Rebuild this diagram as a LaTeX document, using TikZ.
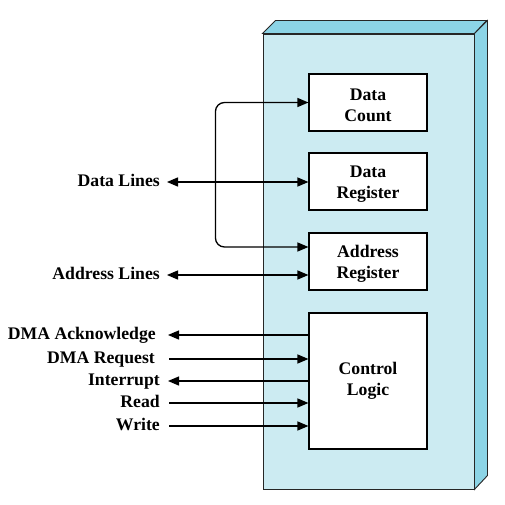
\documentclass[tikz,border=0pt]{standalone}
\usepackage{fontspec}
\setmainfont{Liberation Serif}
\usetikzlibrary{arrows.meta}
\definecolor{frontc}{RGB}{204,235,242}
\definecolor{sidec}{RGB}{140,212,230}
\newcommand{\topgap}{\rule{0pt}{17pt}}
\begin{document}
\begin{tikzpicture}[x=1pt,y=-1pt,
  font=\fontsize{17.7}{21}\selectfont\bfseries,
  >={Triangle[length=11pt,width=9pt]},
  reg/.style={draw, line width=1.1pt, fill=white, minimum width=118pt, minimum height=57pt, align=center, inner sep=0pt},
  lbl/.style={anchor=east, inner ysep=0pt, text height=12.5pt, text depth=4pt},
  sig/.style={line width=1.3pt},
  shell/.style={draw=black!85, line width=0.9pt}]
\useasboundingbox (0,0) rectangle (505,505);
% module body
\node[shell, fill=frontc, minimum width=211pt, minimum height=455pt, inner sep=0pt] (body) at (368.5,261.5) {};
\filldraw[shell, fill=sidec] (body.north west) -- ++(13,-13) -- ++(211,0) -- (body.north east) -- cycle;
\filldraw[shell, fill=sidec] (body.north east) -- ++(13,-13) -- ++(0,455) -- (body.south east) -- cycle;
% registers
\node[reg] (dc) at (368,102.5) {\topgap Data\\Count};
\node[reg] (dreg) at (368,181.5) {\topgap Data\\Register};
\node[reg] (areg) at (368,261.5) {\topgap Address\\Register};
\node[reg, minimum height=136pt] (ctl) at (368,381) {Control\\Logic};
% labels
\node[lbl, inner xsep=7pt] (dl) at (167,182) {Data Lines};
\node[lbl, inner xsep=7pt] (al) at (167,275) {Address Lines};
\node[lbl, inner xsep=12pt] (ack) at (168,335) {DMA Acknowledge};
\node[lbl, inner xsep=14pt] (req) at (169,359) {DMA Request};
\node[lbl, inner xsep=8pt] (intr) at (168,381) {Interrupt};
\node[lbl, inner xsep=9pt] (rd) at (169,403) {Read};
\node[lbl, inner xsep=9pt] (wr) at (169,426) {Write};
% connectors
\draw[sig,<->] (dl.east) -- (dl.east -| dreg.west);
\draw[sig,<->] (al.east) -- (al.east -| areg.west);
\draw[sig,<-] (ack.east) -- (ack.east -| ctl.west);
\draw[sig,->] (req.east) -- (req.east -| ctl.west);
\draw[sig,<-] (intr.east) -- (intr.east -| ctl.west);
\draw[sig,->] (rd.east) -- (rd.east -| ctl.west);
\draw[sig,->] (wr.east) -- (wr.east -| ctl.west);
\draw[sig,<->,rounded corners=9pt] (dc.west) -- ++(-93,0) |- ([yshift=14.5pt]areg.west);
\end{tikzpicture}
\end{document}
